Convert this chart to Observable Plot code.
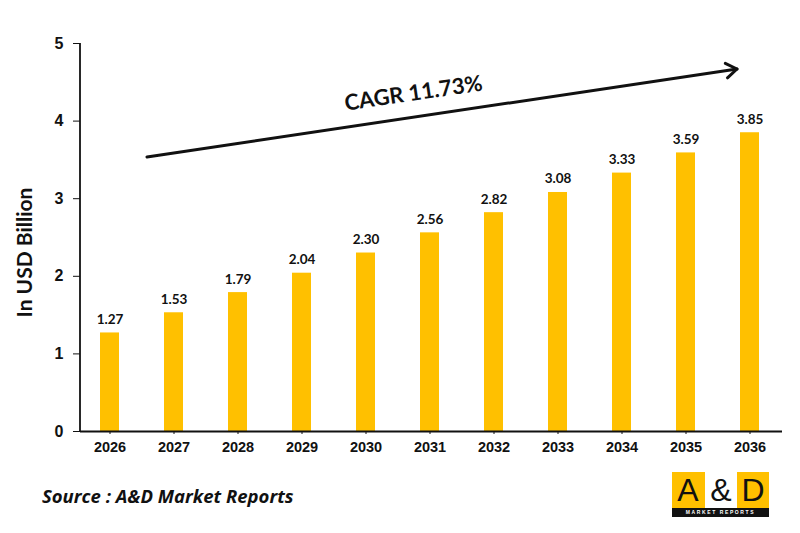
<!DOCTYPE html>
<html>
<head>
<meta charset="utf-8">
<script src="https://cdn.jsdelivr.net/npm/d3@7"></script>
<script src="https://cdn.jsdelivr.net/npm/@observablehq/plot@0.6"></script>
<style>
  html, body { margin: 0; padding: 0; background: #fff; }
  #wrap { position: relative; width: 800px; height: 533px; overflow: hidden; }
  #source {
    position: absolute; left: 42px; top: 483px;
    font: italic 700 18.5px "Open Sans", "Lato", sans-serif; color: #111;
  }
  #logo { position: absolute; left: 672px; top: 472px; width: 97px; height: 45px; }
  #logo .top { position: absolute; left: 0; top: 0; width: 97px; height: 36px; background: #FFC000; }
  #logo .mid { position: absolute; left: 33px; top: 0; width: 32px; height: 36px; background: #fff; }
  #logo .ch {
    position: absolute; top: 1px; width: 32px; text-align: center;
    font: 400 32px "Liberation Sans", Arial, sans-serif; color: #111; line-height: 34px;
  }
  #logo .strip {
    position: absolute; left: 0; top: 36px; width: 97px; height: 9px; background: #111;
    color: #fff; font: 700 5px "Liberation Sans", Arial, sans-serif; letter-spacing: 1.6px;
    text-align: center; line-height: 9px;
  }
</style>
</head>
<body>
<div id="wrap">
  <div id="chart"></div>
  <div id="source"></div>
  <div id="logo">
    <div class="top"></div>
    <div class="mid"></div>
    <div class="ch" style="left:0px">A</div>
    <div class="ch" style="left:33px">&amp;</div>
    <div class="ch" style="left:65px">D</div>
    <div class="strip">MARKET REPORTS</div>
  </div>
</div>
<script>
// Market size by year, USD billion
const years = ["2026", "2027", "2028", "2029", "2030", "2031", "2032", "2033", "2034", "2035", "2036"];
const values = [1.27, 1.53, 1.79, 2.04, 2.30, 2.56, 2.82, 3.08, 3.33, 3.59, 3.85];
const yTicks = [0, 1, 2, 3, 4, 5];
const yTitle = "In USD Billion";
const cagrLabel = "CAGR 11.73%";
const sourceText = "Source : A&D Market Reports";

const data = years.map((year, i) => ({year, value: values[i]}));

const barColor = "#FFC000";
const ink = "#111";
const labelFont = "Lato, 'Open Sans', sans-serif";
const axisFont = "'Liberation Sans', Arial, sans-serif";

const plot = Plot.plot({
  width: 800,
  height: 462,
  marginLeft: 80,
  marginRight: 18,
  marginTop: 43,
  marginBottom: 31,
  style: {background: "#fff", color: ink, fontFamily: axisFont},
  x: {domain: years, paddingInner: 0.7, paddingOuter: 0.33, align: 0.46, label: null},
  y: {domain: [0, 5], label: null},
  marks: [
    Plot.barY(data, {x: "year", y: "value", fill: barColor}),
    Plot.text(data, {
      x: "year", y: "value", text: d => d.value.toFixed(2),
      lineAnchor: "bottom", dy: -9,
      fontSize: 13.5, fontWeight: 700, fontFamily: labelFont, fill: ink
    }),
    Plot.ruleY([0], {stroke: ink, strokeWidth: 2}),
    Plot.axisX({tickSize: 3, tickPadding: 7, fontSize: 14.5, fontWeight: 700, label: null}),
    Plot.axisY({ticks: yTicks, tickFormat: d => String(d), tickSize: 7, tickPadding: 10, fontSize: 16, fontWeight: 700, label: null}),
    // rotated axis title on the left
    Plot.text([yTitle], {
      frameAnchor: "left", rotate: -90, dx: -55, dy: 15,
      textAnchor: "middle", lineAnchor: "middle",
      fontSize: 21, fontWeight: 700, fontFamily: labelFont, fill: ink
    }),
    // growth label along the trend arrow
    Plot.text([cagrLabel], {
      frameAnchor: "top-left", dx: 333, dy: 50, rotate: -8.4,
      textAnchor: "middle", lineAnchor: "middle",
      fontSize: 22, fontWeight: 700, fontFamily: labelFont, fill: ink
    })
  ]
});

document.getElementById("chart").append(plot);
document.getElementById("source").textContent = sourceText;

// vertical axis line and the trend arrow
const svg = d3.select(plot);
const y = plot.scale("y");
svg.append("line")
  .attr("x1", 80).attr("x2", 80)
  .attr("y1", y.apply(5)).attr("y2", y.apply(0))
  .attr("stroke", ink).attr("stroke-width", 1.8);

const a0 = [147, 157], a1 = [737, 69];
const th = Math.atan2(a1[1] - a0[1], a1[0] - a0[0]);
const wing = 13, spread = 0.6;
svg.append("line")
  .attr("x1", a0[0]).attr("y1", a0[1]).attr("x2", a1[0]).attr("y2", a1[1])
  .attr("stroke", ink).attr("stroke-width", 3).attr("stroke-linecap", "round");
svg.append("path")
  .attr("d", `M${a1[0] - wing * Math.cos(th - spread)},${a1[1] - wing * Math.sin(th - spread)}L${a1[0]},${a1[1]}L${a1[0] - wing * Math.cos(th + spread)},${a1[1] - wing * Math.sin(th + spread)}`)
  .attr("fill", "none").attr("stroke", ink).attr("stroke-width", 3)
  .attr("stroke-linecap", "round").attr("stroke-linejoin", "round");
</script>
</body>
</html>
